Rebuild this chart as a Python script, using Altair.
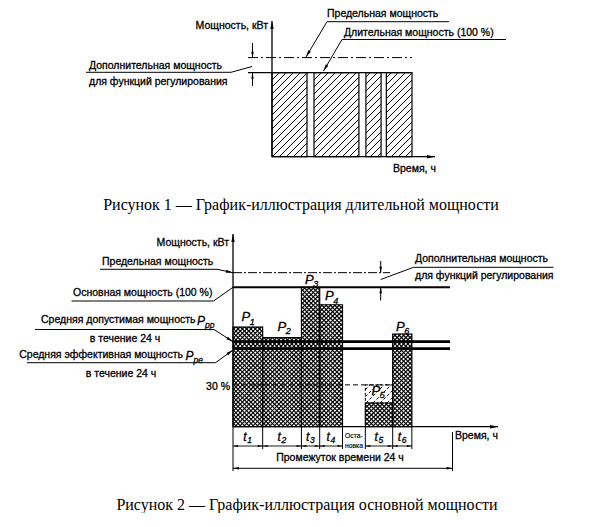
import math
import altair as alt
import pandas as pd

# ---------------- data ----------------
# Figure 1: continuous power, operating intervals (hours of a 24 h day)
fig1_start = [0.0, 7.2, 16.1, 19.6]
fig1_end = [6.0, 14.9, 18.7, 24.0]
fig1_power = 100      # % (continuous power)
fig1_limit = 118      # % (limit power)

# Figure 2: prime power, periods t1..t6 and a stop
periods = ["1", "2", "3", "4", "stop", "5", "6"]
period_start = [0.0, 3.25, 7.5, 9.5, 12.0, 14.5, 17.5]
period_end = [3.25, 7.5, 9.5, 12.0, 14.5, 17.5, 19.6]
period_power = [71.5, 64.0, 100.0, 87.5, 0.0, 17.0, 66.5]
fig2_base = 100       # % prime power
fig2_limit = 110.5    # % limit power
fig2_ppp = 61         # % mean admissible power over 24 h
fig2_ppe = 56         # % mean effective power over 24 h
fig2_min = 30         # % minimum load

# ---------------- layout ----------------
W = 590
H1, H2 = 207, 298
O1 = (8, 8)
O2 = (8, 215)
FONT = "Liberation Sans"
SERIF = "Liberation Serif"
dummy = pd.DataFrame({"d": [0]})
ARROW = "M0,-1L0.42,1L-0.42,1Z"


class Fig:
    def __init__(self, o, xr, yr):
        self.o = o
        self.xr, self.yr = xr, yr
        self.xs = alt.Scale(domain=[0, 24], range=xr, nice=False, zero=False)
        self.ys = alt.Scale(domain=[0, 100], range=yr, nice=False, zero=False)
        self.layers = []

    def px_x(self, h):
        return self.xr[0] + (self.xr[1] - self.xr[0]) * h / 24

    def px_y(self, p):
        return self.yr[0] + (self.yr[1] - self.yr[0]) * p / 100

    def inv_x(self, lx):
        return (lx - self.xr[0]) / (self.xr[1] - self.xr[0]) * 24

    def inv_y(self, ly):
        return (ly - self.yr[0]) / (self.yr[1] - self.yr[0]) * 100

    def seg(self, x1, y1, x2, y2, w=1.0, dash=None, color="black"):
        kw = dict(strokeWidth=w, color=color)
        if dash:
            kw["strokeDash"] = dash
        self.layers.append(alt.Chart(dummy).mark_rule(**kw).encode(
            x=alt.value(x1 - self.o[0]), y=alt.value(y1 - self.o[1]),
            x2=alt.value(x2 - self.o[0]), y2=alt.value(y2 - self.o[1])))

    def head(self, tx, ty, fx, fy, L=7):
        dx, dy = tx - fx, ty - fy
        n = math.hypot(dx, dy)
        ux, uy = dx / n, dy / n
        cx, cy = tx - ux * L / 2, ty - uy * L / 2
        ang = math.degrees(math.atan2(dx, -dy)) % 360
        self.layers.append(alt.Chart(dummy).mark_point(
            shape=ARROW, filled=True, size=L * L, color="black", opacity=1,
            strokeWidth=0).encode(
            x=alt.value(cx - self.o[0]), y=alt.value(cy - self.o[1]),
            angle=alt.value(ang)))

    def arrow(self, x1, y1, x2, y2, w=1.0, L=7):
        self.seg(x1, y1, x2, y2, w)
        self.head(x2, y2, x1, y1, L)

    def txt(self, x, y, s, size=10.5, align="left", font=FONT, style="normal",
            weight="normal", stroke=0.3):
        kw = dict(align=align, baseline="middle", font=font, fontSize=size,
                  fontStyle=style, fontWeight=weight, color="black")
        if stroke:
            kw["stroke"] = "black"
            kw["strokeWidth"] = stroke
        self.layers.append(alt.Chart(dummy).mark_text(**kw).encode(
            x=alt.value(x - self.o[0]), y=alt.value(y - self.o[1]),
            text=alt.value(s)))

    def level(self, value, x1, x2, w=1.0, dash=None):
        kw = dict(strokeWidth=w, color="black")
        if dash:
            kw["strokeDash"] = dash
        self.layers.append(alt.Chart(pd.DataFrame({"p": [value]})).mark_rule(**kw).encode(
            y=alt.Y("p:Q", scale=self.ys, axis=None),
            x=alt.value(x1 - self.o[0]), x2=alt.value(x2 - self.o[0])))

    def hatch(self, rects, period, dirs, w=1.0, dash=None):
        rows = []
        for (h0, h1, p0, p1) in rects:
            l, r = self.px_x(h0), self.px_x(h1)
            t, b = self.px_y(p1), self.px_y(p0)
            for d in dirs:
                if d == "/":
                    c = math.floor((l + t) / period) * period
                    while c <= r + b:
                        lo, hi = max(l, c - b), min(r, c - t)
                        if hi > lo:
                            rows.append((lo, c - lo, hi, c - hi))
                        c += period
                else:
                    c = math.floor((t - r) / period) * period
                    while c <= b - l:
                        lo, hi = max(l, t - c), min(r, b - c)
                        if hi > lo:
                            rows.append((lo, lo + c, hi, hi + c))
                        c += period
        df = pd.DataFrame([dict(x=self.inv_x(a), y=self.inv_y(b_), x2=self.inv_x(c_),
                                y2=self.inv_y(d_)) for (a, b_, c_, d_) in rows])
        kw = dict(strokeWidth=w, color="black")
        if dash:
            kw["strokeDash"] = dash
        self.layers.append(alt.Chart(df).mark_rule(**kw).encode(
            x=alt.X("x:Q", scale=self.xs, axis=None),
            y=alt.Y("y:Q", scale=self.ys, axis=None),
            x2="x2:Q", y2="y2:Q"))

    def rects(self, df, w=1.2, dash=None):
        kw = dict(fillOpacity=0, stroke="black", strokeWidth=w)
        if dash:
            kw["strokeDash"] = dash
        self.layers.append(alt.Chart(df).mark_rect(**kw).encode(
            x=alt.X("start:Q", scale=self.xs, axis=None), x2="end:Q",
            y=alt.Y("low:Q", scale=self.ys, axis=None), y2="high:Q"))


# ---------------- Figure 1 ----------------
f1 = Fig(O1, [272 - 8, 412 - 8], [156.7 - 8, 72.7 - 8])
bars1 = pd.DataFrame({"start": fig1_start, "end": fig1_end,
                      "low": [0] * len(fig1_start), "high": [fig1_power] * len(fig1_start)})
f1.hatch(list(zip(fig1_start, fig1_end, [0] * 4, [fig1_power] * 4)), 7.0, ["/"], w=1.0)
f1.rects(bars1, w=1.2)
f1.level(fig1_power, 248, 412, w=1.3)
f1.level(fig1_limit, 248, 412, w=1.0, dash=[10, 3, 2, 3])
# axes
f1.arrow(272, 156.7, 272, 21, w=1.3, L=8)
f1.arrow(272, 156.7, 435, 156.7, w=1.3, L=8)
f1.txt(268, 26, "Мощность, кВт", align="right")
f1.txt(393, 168.5, "Время, ч")
# additional power arrows
f1.arrow(252.5, 43, 252.5, 57.7, w=1.0, L=6)
f1.arrow(252.5, 86, 252.5, 72.7, w=1.0, L=6)
f1.seg(86, 72.3, 231, 72.3, w=1.0)
f1.seg(231, 72.3, 252, 66.5, w=1.0)
f1.txt(89, 65.5, "Дополнительная мощность")
f1.txt(89, 81.5, "для функций регулирования")
# limit / continuous labels
f1.txt(327, 14, "Предельная мощность")
f1.seg(327, 21.7, 449, 21.7, w=1.0)
f1.arrow(327, 21.7, 306, 57, w=1.0, L=7)
f1.txt(344, 33, "Длительная мощность (100 %)")
f1.seg(342, 39.5, 506, 39.5, w=1.0)
f1.arrow(342, 39.5, 323.5, 71, w=1.0, L=7)
f1.txt(301, 204.5, "Рисунок 1 — График-иллюстрация длительной мощности", size=16,
       align="center", font=SERIF, stroke=0)

chart1 = alt.layer(*f1.layers).properties(width=W, height=H1)

# ---------------- Figure 2 ----------------
f2 = Fig(O2, [233 - 8, 452 - 8], [426.7 - 215, 287.3 - 215])
work = [i for i, p in enumerate(periods) if p != "stop"]
bars2 = pd.DataFrame({"start": [period_start[i] for i in work],
                      "end": [period_end[i] for i in work],
                      "low": [0] * len(work),
                      "high": [period_power[i] for i in work]})
f2.hatch([(period_start[i], period_end[i], 0, period_power[i]) for i in work],
         4.3, ["/", "\\"], w=1.15)
f2.rects(bars2, w=1.2)
# dashed part of P5 (up to the 30 % minimum)
i5 = periods.index("5")
p5 = pd.DataFrame({"start": [period_start[i5]], "end": [period_end[i5]],
                   "low": [period_power[i5]], "high": [fig2_min]})
f2.hatch([(period_start[i5], period_end[i5], period_power[i5], fig2_min)], 7.0, ["/"],
         w=1.0, dash=[3, 2])
f2.rects(p5, w=1.0, dash=[3, 2])
min_df = pd.DataFrame({"p": [fig2_min], "start": [0.0], "end": [period_end[i5]]})
f2.layers.append(alt.Chart(min_df).mark_rule(strokeWidth=1.0, color="black",
                                             strokeDash=[5, 3]).encode(
    y=alt.Y("p:Q", scale=f2.ys, axis=None),
    x=alt.X("start:Q", scale=f2.xs, axis=None), x2="end:Q"))
# levels
f2.level(fig2_limit, 233, 390, w=1.0, dash=[9, 2, 2, 2])
f2.level(fig2_base, 233, 450, w=2.0)
f2.level(fig2_ppp, 233, 450, w=2.6)
f2.level(fig2_ppe, 233, 450, w=2.6)
# axes
f2.arrow(233, 426.7, 233, 234, w=1.3, L=8)
f2.arrow(233, 426.7, 498, 426.7, w=1.3, L=8)
f2.txt(229, 243, "Мощность, кВт", align="right")
f2.txt(455, 435.7, "Время, ч")
# P labels
p_pos = {"1": (241.5, 317), "2": (277.5, 326.5), "3": (305, 279.5), "4": (325, 296),
         "5": (371.5, 390.5), "6": (396, 326.5)}
for k, (x, y) in p_pos.items():
    f2.txt(x, y, "P", size=13, style="italic")
    f2.txt(x + 8.3, y + 4.5, k, size=9, style="italic")
# left labels
f2.txt(102, 262.3, "Предельная мощность")
f2.seg(100, 269.3, 217, 269.3)
f2.arrow(217, 269.3, 233, 272.7, L=7)
f2.txt(73, 292.7, "Основная мощность (100 %)")
f2.seg(71.5, 301, 213.5, 301)
f2.seg(213.5, 301, 233, 287.3)
f2.txt(195.5, 320, "Средняя допустимая мощность", align="right")
f2.txt(197, 321, "P", size=12, style="italic")
f2.txt(205, 325, "pp", size=8.5, style="italic")
f2.seg(35, 329.5, 214, 329.5)
f2.arrow(214, 329.5, 233, 341.7, L=7)
f2.txt(125, 338.5, "в течение 24 ч", align="center")
f2.txt(183, 355, "Средняя эффективная мощность", align="right")
f2.txt(185.5, 356, "P", size=12, style="italic")
f2.txt(193.5, 360, "pe", size=8.5, style="italic")
f2.seg(27, 362.7, 215.5, 362.7)
f2.arrow(215.5, 362.7, 233, 350, L=7)
f2.txt(121, 373.5, "в течение 24 ч", align="center")
f2.txt(230, 386.7, "30 %", align="right")
# right annotation (additional power)
f2.arrow(380.7, 261, 380.7, 272.7, L=6)
f2.arrow(380.7, 300.5, 380.7, 287.3, L=6)
f2.seg(380.7, 279.5, 413.5, 267.3)
f2.seg(413.5, 267.3, 553.5, 267.3)
f2.txt(415, 259.3, "Дополнительная мощность")
f2.txt(415, 275.5, "для функций регулирования")
# time labels below the axis
bounds = [f2.px_x(h) + 8 for h in period_start] + [f2.px_x(period_end[-1]) + 8]
for bx in bounds[1:]:
    f2.seg(bx, 426.7, bx, 449, w=1.0)
f2.seg(233, 426.7, 233, 471, w=1.0)
f2.seg(452.5, 432, 452.5, 471, w=1.0)
for i, p in enumerate(periods):
    x0, x1 = bounds[i], bounds[i + 1]
    cx = (x0 + x1) / 2
    if p == "stop":
        f2.txt(cx, 435.7, "Оста-", size=6.8, align="center", stroke=0.15)
        f2.txt(cx, 446.3, "новка", size=6.8, align="center", stroke=0.15)
        continue
    f2.txt(cx - 4.5, 436.5, "t", size=12, style="italic")
    f2.txt(cx - 0.5, 440, p, size=8.5, style="italic")
    f2.seg(x0, 446, x1, 446, w=0.9)
    f2.head(x0, 446, x1, 446, L=5)
    f2.head(x1, 446, x0, 446, L=5)
f2.txt(340, 458.3, "Промежуток времени 24 ч", align="center")
f2.seg(233, 468.3, 452.5, 468.3, w=1.0)
f2.head(233, 468.3, 452.5, 468.3, L=6)
f2.head(452.5, 468.3, 233, 468.3, L=6)
f2.txt(307, 505, "Рисунок 2 — График-иллюстрация основной мощности", size=16,
       align="center", font=SERIF, stroke=0)

chart2 = alt.layer(*f2.layers).properties(width=W, height=H2)

chart = alt.vconcat(chart1, chart2, spacing=0).properties(
    padding=0, background="white").configure_view(stroke=None)

chart.save("out.html", embed_options={"renderer": "svg", "actions": False})
